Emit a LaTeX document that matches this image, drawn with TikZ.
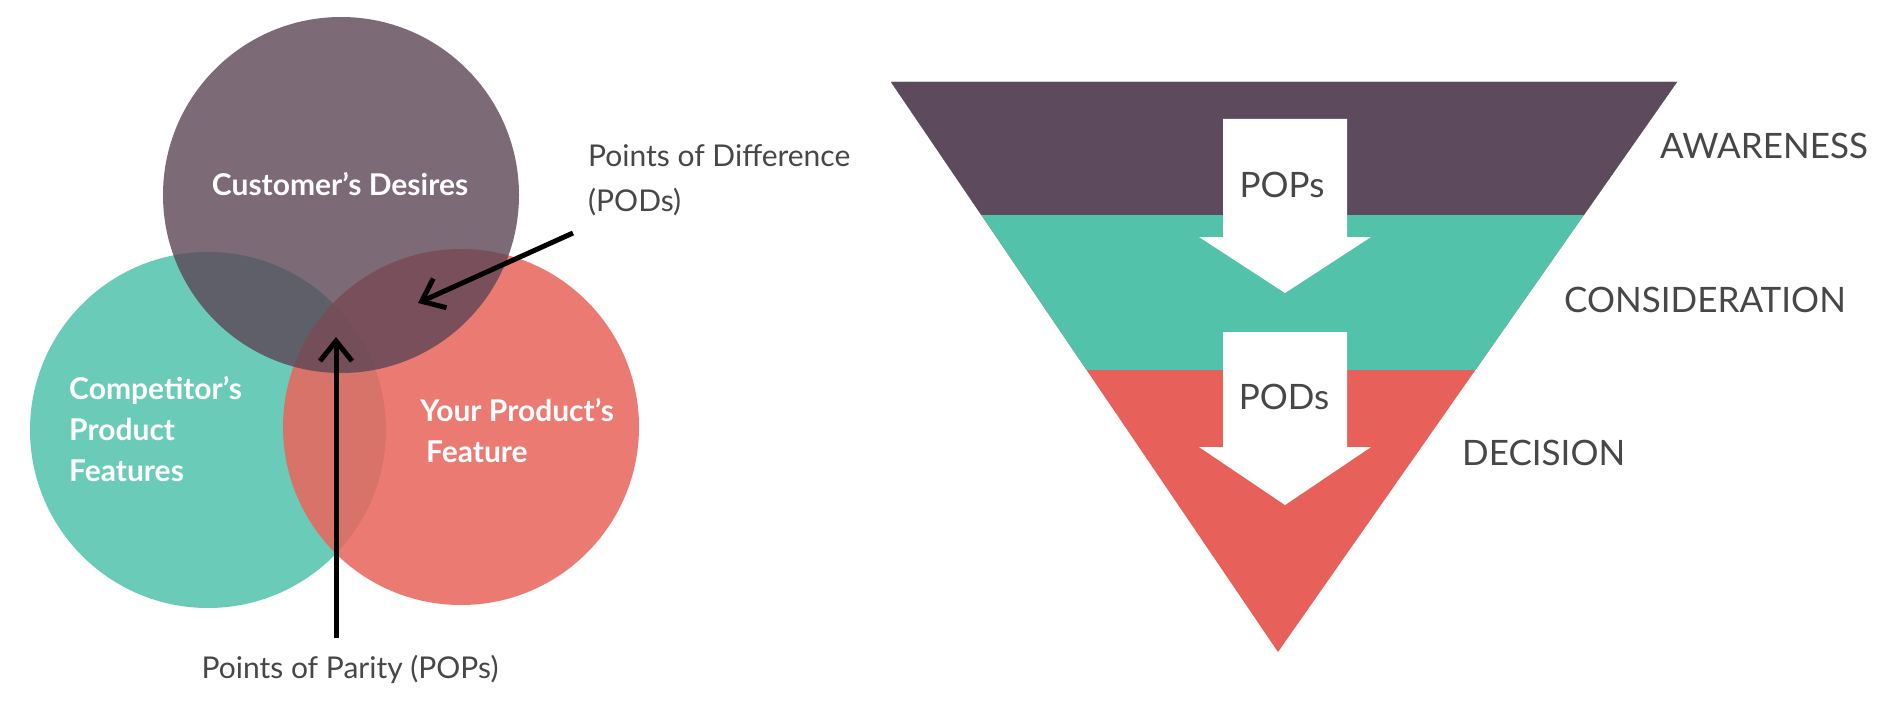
\documentclass[tikz,border=0pt]{standalone}
\usepackage{fontspec}
\setmainfont{Lato}
\usetikzlibrary{arrows.meta,calc}
\definecolor{cdes}{HTML}{5C4555}
\definecolor{cteal}{HTML}{52C2AD}
\definecolor{cred}{HTML}{E9675E}
\definecolor{fpurple}{HTML}{5D4A5C}
\definecolor{fteal}{HTML}{52C2AA}
\definecolor{fred}{HTML}{E8605A}
\definecolor{txt}{HTML}{474747}
\tikzset{
  venncircle/.style={circle, draw=none, inner sep=0pt, minimum size=356pt},
  venntext/.style={text=white, font=\fontsize{30}{36}\selectfont\bfseries, inner sep=0pt},
  notetext/.style={text=txt, font=\fontsize{30}{36}\selectfont, inner sep=0pt},
  stagetext/.style={text=txt, font=\fontsize{35}{42}\selectfont, inner sep=0pt, anchor=base west},
  arrowtext/.style={text=txt, font=\fontsize{35}{42}\selectfont, inner sep=0pt, anchor=base},
  pointer/.style={draw=black, line width=5pt, -{Straight Barb[length=20pt,width=32pt]}},
  blockarrow/.style={fill=white, draw=none}
}
\begin{document}
\begin{tikzpicture}[x=1pt,y=-1pt]
\useasboundingbox (0,0) rectangle (1898,706);
\fill[white] (0,0) rectangle (1898,706);
% Venn circles
\node[venncircle, fill=cteal, fill opacity=0.85] (comp) at (208,430) {};
\node[venncircle, fill=cred, fill opacity=0.87] (your) at (461,427) {};
\node[venncircle, fill=cdes, fill opacity=0.8] (cust) at (341,195) {};
% Venn texts
\node[venntext, anchor=base] (custtext) at (340,195) {Customer's Desires};
\node[venntext, anchor=base west] (comp1) at (69,399) {Competitor's};
\node[venntext, anchor=base west] (comp2) at (69,440) {Product};
\node[venntext, anchor=base west] (comp3) at (69,481) {Features};
\node[venntext, anchor=base west] (your1) at (420,421) {Your Product's};
\node[venntext, anchor=base west] (your2) at (426,462) {Feature};
% notes
\node[notetext, anchor=base west] (pod1) at (588,166) {Points of Difference};
\node[notetext, anchor=base west] (pod2) at (588,211) {(PODs)};
\node[notetext, anchor=base] (pop) at (350,678) {Points of Parity (POPs)};
\coordinate (podstart) at (573,233);
\coordinate (podtip) at (418,303);
\coordinate (popstart) at (336,638);
\coordinate (poptip) at (336,337);
\draw[pointer] (podstart) -- (podtip);
\draw[pointer] (popstart) -- (poptip);
% Funnel
\coordinate (tl) at (891,82);
\coordinate (tr) at (1677,82);
\coordinate (ap) at (1278,652);
\fill[fred] (tl) -- (tr) -- (ap) -- cycle;
\fill[fteal] (tl) -- (tr) -- ($(tr)!{(370-82)/570}!(ap)$) -- ($(tl)!{(370-82)/570}!(ap)$) -- cycle;
\fill[fpurple] (tl) -- (tr) -- ($(tr)!{(215-82)/570}!(ap)$) -- ($(tl)!{(215-82)/570}!(ap)$) -- cycle;
% block arrows
\fill[blockarrow] (1223,119) -- (1347,119) -- (1347,237) -- (1371,237) -- (1285,293) -- (1199,237) -- (1223,237) -- cycle;
\fill[blockarrow] (1223,332) -- (1347,332) -- (1347,447) -- (1371,447) -- (1285,505) -- (1199,447) -- (1223,447) -- cycle;
\node[arrowtext] (pops) at (1282,197.5) {POPs};
\node[arrowtext] (pods) at (1284,409.5) {PODs};
% stage labels
\node[stagetext] (aw) at (1660,158.5) {AWARENESS};
\node[stagetext] (co) at (1564,312.5) {CONSIDERATION};
\node[stagetext] (de) at (1462,465.5) {DECISION};
\end{tikzpicture}
\end{document}
